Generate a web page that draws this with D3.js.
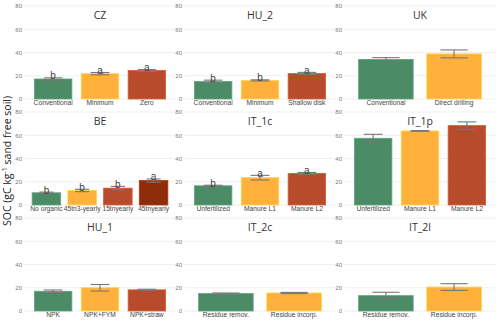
<!DOCTYPE html>
<html>
<head>
<meta charset="utf-8">
<script src="https://cdn.jsdelivr.net/npm/d3@7"></script>
<style>
  body { margin: 0; background: #fff; }
  text { font-family: "Liberation Sans", Arial, sans-serif; }
</style>
</head>
<body>
<div id="chart"></div>
<script>
// site panels, read row by row
var panels = ["CZ", "HU_2", "UK", "BE", "IT_1c", "IT_1p", "HU_1", "IT_2c", "IT_2l"];

var treatments = [
    ["Conventional", "Minimum", "Zero"],
    ["Conventional", "Minimum", "Shallow disk"],
    ["Conventional", "Direct drilling"],
    ["No organic", "45tn3-yearly", "15tnyearly", "45tnyearly"],
    ["Unfertilized", "Manure L1", "Manure L2"],
    ["Unfertilized", "Manure L1", "Manure L2"],
    ["NPK", "NPK+FYM", "NPK+straw"],
    ["Residue remov.", "Residue incorp."],
    ["Residue remov.", "Residue incorp."]
];

var soc_mean = [
    [17.2, 21.8, 24.5],
    [15.0, 16.0, 22.0],
    [34.0, 38.8],
    [10.5, 12.5, 14.5, 21.0],
    [16.5, 23.5, 27.2],
    [57.4, 63.7, 68.3],
    [17.0, 20.0, 18.2],
    [15.0, 15.5],
    [13.2, 20.6]
];

var soc_se = [
    [1.0, 1.0, 0.8],
    [1.2, 0.5, 0.9],
    [1.6, 3.4],
    [0.6, 1.0, 1.5, 1.4],
    [0.5, 2.0, 0.8],
    [3.4, 0.3, 3.2],
    [1.1, 2.8, 0.5],
    [0.5, 0.5],
    [2.9, 2.9]
];

var letters = [
    ["b", "a", "a"],
    ["b", "b", "a"],
    [],
    ["b", "b", "b", "a"],
    ["b", "a", "a"],
    [], [], [], []
];

var yTicks = [0, 20, 40, 60, 80];
var palette = ["#4b8b66", "#ffb13c", "#b84b2b", "#8f2d0b"];

var W = 500, H = 323;
var panelW = 150, colLeft = [25, 185, 345];
var rowBase = [99, 205, 311], yPx = 93; // pixel height of 0..80

var svg = d3.select("#chart").append("svg")
    .attr("width", W)
    .attr("height", H);

// y axis title
svg.append("text")
    .attr("transform", "translate(11,161) rotate(-90)")
    .attr("text-anchor", "middle")
    .style("font-family", "'Open Sans', sans-serif")
    .style("font-size", "10.5px")
    .attr("fill", "#222")
    .call(function(t) {
        t.append("tspan").text("SOC (gC kg");
        t.append("tspan").attr("baseline-shift", "super").style("font-size", "7px").text("-1");
        t.append("tspan").text(" sand free soil)");
    });

panels.forEach(function(name, p) {
    var col = p % 3, row = Math.floor(p / 3);
    var x0 = colLeft[col], base = rowBase[row];

    var y = d3.scaleLinear().domain([0, 80]).range([base, base - yPx]);
    var x = d3.scaleBand()
        .domain(treatments[p])
        .range([x0, x0 + panelW])
        .paddingInner(0.2)
        .paddingOuter(0.2);

    var g = svg.append("g");

    // horizontal grid
    g.selectAll("line.grid").data(yTicks).enter().append("line")
        .attr("class", "grid")
        .attr("x1", x0).attr("x2", x0 + panelW)
        .attr("y1", function(d) { return y(d); })
        .attr("y2", function(d) { return y(d); })
        .attr("stroke", "#ebebeb")
        .attr("stroke-width", 0.8);

    // y tick labels
    var ya = g.append("g")
        .attr("transform", "translate(" + x0 + ",0)")
        .call(d3.axisLeft(y).tickValues(yTicks).tickSize(0).tickPadding(3));
    ya.select(".domain").remove();
    ya.selectAll("text")
        .style("font-size", "6px")
        .attr("fill", "#777");

    // x tick labels
    var xa = g.append("g")
        .attr("transform", "translate(0," + base + ")")
        .call(d3.axisBottom(x).tickSize(0).tickPadding(1.5));
    xa.select(".domain").remove();
    xa.selectAll("text")
        .style("font-size", "6.7px")
        .attr("fill", "#444");

    var rows = treatments[p].map(function(t, i) {
        return { t: t, m: soc_mean[p][i], se: soc_se[p][i], l: letters[p][i], c: palette[i] };
    });

    g.selectAll("rect.bar").data(rows).enter().append("rect")
        .attr("class", "bar")
        .attr("x", function(d) { return x(d.t); })
        .attr("width", x.bandwidth())
        .attr("y", function(d) { return y(d.m); })
        .attr("height", function(d) { return base - y(d.m); })
        .attr("fill", function(d) { return d.c; })
        .attr("stroke", function(d) { return d3.color(d.c).brighter(0.5); })
        .attr("stroke-width", 0.8);

    // error bars
    var cap = x.bandwidth() * 0.25;
    var eb = g.selectAll("g.err").data(rows).enter().append("g")
        .attr("class", "err")
        .attr("stroke", "#777")
        .attr("stroke-width", 1.1);
    eb.append("line")
        .attr("x1", function(d) { return x(d.t) + x.bandwidth() / 2; })
        .attr("x2", function(d) { return x(d.t) + x.bandwidth() / 2; })
        .attr("y1", function(d) { return y(d.m - d.se); })
        .attr("y2", function(d) { return y(d.m + d.se); });
    [-1, 1].forEach(function(s) {
        eb.append("line")
            .attr("x1", function(d) { return x(d.t) + x.bandwidth() / 2 - cap; })
            .attr("x2", function(d) { return x(d.t) + x.bandwidth() / 2 + cap; })
            .attr("y1", function(d) { return y(d.m + s * d.se); })
            .attr("y2", function(d) { return y(d.m + s * d.se); });
    });

    // significance letters
    g.selectAll("text.sig").data(rows.filter(function(d) { return d.l; })).enter().append("text")
        .attr("class", "sig")
        .attr("x", function(d) { return x(d.t) + x.bandwidth() / 2; })
        .attr("y", function(d) { return y(d.m + d.se) + 1.5; })
        .attr("text-anchor", "middle")
        .style("font-size", "10px")
        .attr("fill", "#444")
        .text(function(d) { return d.l; });

    // panel title
    g.append("text")
        .attr("x", x0 + panelW / 2)
        .attr("y", base - yPx + 13)
        .attr("text-anchor", "middle")
        .style("font-family", "'Open Sans', sans-serif")
        .style("font-size", "10.5px")
        .attr("fill", "#333")
        .text(name);
});
</script>
</body>
</html>
